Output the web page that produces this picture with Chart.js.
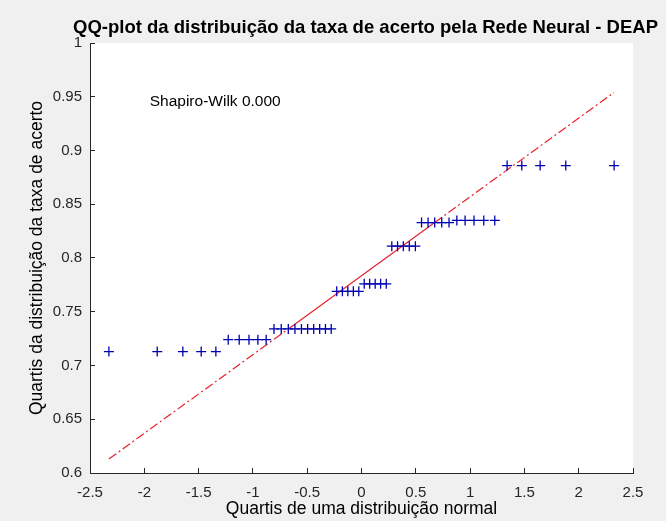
<!DOCTYPE html>
<html><head><meta charset="utf-8">
<script src="https://cdn.jsdelivr.net/npm/chart.js@4/dist/chart.umd.min.js"></script>
<style>html,body{margin:0;padding:0;background:#f0f0f0;overflow:hidden}#wrap{width:666px;height:521px}</style>
</head><body><div id="wrap"><canvas id="c" width="666" height="521"></canvas></div>
<script>
// Theoretical normal quantiles (x)
const theoreticalQuantiles = [
  -2.326,-1.881,-1.645,-1.476,-1.341,
  -1.227,-1.126,-1.036,-0.954,-0.878,
  -0.806,-0.739,-0.674,-0.613,-0.553,-0.496,-0.440,-0.385,-0.332,-0.279,
  -0.228,-0.176,-0.126,-0.075,-0.025,
  0.025,0.075,0.126,0.176,0.228,
  0.279,0.332,0.385,0.440,0.496,
  0.553,0.613,0.674,0.739,0.806,
  0.878,0.954,1.036,1.126,1.227,
  1.341,1.476,1.645,1.881,2.326
];
// Sample quantiles of the hit rate (y)
const sampleQuantiles = [
  0.713,0.713,0.713,0.713,0.713,
  0.724,0.724,0.724,0.724,0.724,
  0.734,0.734,0.734,0.734,0.734,0.734,0.734,0.734,0.734,0.734,
  0.769,0.769,0.769,0.769,0.769,
  0.776,0.776,0.776,0.776,0.776,
  0.811,0.811,0.811,0.811,0.811,
  0.833,0.833,0.833,0.833,0.833,
  0.835,0.835,0.835,0.835,0.835,
  0.886,0.886,0.886,0.886,0.886
];
// Reference line (through 1st and 3rd quartiles, extended to extremes)
const refLineX = [-2.326,-0.674,0.674,2.326];
const refLineY = [0.613,0.734,0.833,0.954];

const xTicks = [-2.5,-2,-1.5,-1,-0.5,0,0.5,1,1.5,2,2.5];
const xTickLabels = ['-2.5','-2','-1.5','-1','-0.5','0','0.5','1','1.5','2','2.5'];
const yTicks = [0.6,0.65,0.7,0.75,0.8,0.85,0.9,0.95,1];
const yTickLabels = ['0.6','0.65','0.7','0.75','0.8','0.85','0.9','0.95','1'];

const chartTitle = 'QQ-plot da distribuição da taxa de acerto pela Rede Neural - DEAP';
const xTitle = 'Quartis de uma distribuição normal';
const yTitle = 'Quartis da distribuição da taxa de acerto';
const annotationText = 'Shapiro-Wilk 0.000';
const annotationX = -1.95, annotationY = 0.945;

const FONT = '"Liberation Sans", Arial, Helvetica, sans-serif';

const bgPlugin = {
  id: 'bg',
  afterLayout(chart) {
    // centre the title over the axes area
    const t = chart.titleBlock;
    if (t) { t.left = 65; t.right = 666; t.width = 601; }
  },
  beforeDraw(chart) {
    const {ctx, chartArea: a} = chart;
    ctx.save();
    ctx.fillStyle = '#f0f0f0';
    ctx.fillRect(0, 0, chart.width, chart.height);
    ctx.fillStyle = '#ffffff';
    ctx.fillRect(a.left, a.top, a.right - a.left, a.bottom - a.top);
    ctx.restore();
  }
};
const textPlugin = {
  id: 'annot',
  afterDatasetsDraw(chart) {
    const {ctx, scales} = chart;
    ctx.save();
    ctx.font = '15.5px ' + FONT;
    ctx.fillStyle = '#000000';
    ctx.textBaseline = 'middle';
    ctx.textAlign = 'left';
    ctx.fillText(annotationText, scales.x.getPixelForValue(annotationX), scales.y.getPixelForValue(annotationY));
    ctx.restore();
  }
};

new Chart(document.getElementById('c'), {
  type: 'scatter',
  data: {
    datasets: [
      {
        label: 'dados',
        data: theoreticalQuantiles.map((x, i) => ({x, y: sampleQuantiles[i]})),
        pointStyle: 'cross',
        pointRadius: 5,
        pointBorderWidth: 1.3,
        borderColor: '#0000b0',
        backgroundColor: '#0000b0',
        showLine: false,
        order: 1
      },
      {
        label: 'referência',
        data: refLineX.map((x, i) => ({x, y: refLineY[i]})),
        showLine: true,
        pointRadius: 0,
        borderColor: '#e8202a',
        borderWidth: 1.2,
        segment: {
          borderDash: ctx => ctx.p0DataIndex === 1 ? [] : [9, 3, 2, 3]
        },
        order: 2
      }
    ]
  },
  options: {
    responsive: false,
    animation: false,
    devicePixelRatio: 1,
    layout: {padding: {left: 0, right: 33, top: 0, bottom: 0}},
    plugins: {
      legend: {display: false},
      tooltip: {enabled: false},
      title: {
        display: true,
        text: chartTitle,
        color: '#000000',
        font: {family: FONT, size: 18.5, weight: 'bold', lineHeight: 1.2},
        padding: {top: 17, bottom: 3.8}
      }
    },
    scales: {
      x: {
        type: 'linear',
        min: -2.5, max: 2.5,
        afterBuildTicks: s => { s.ticks = xTicks.map(v => ({value: v})); },
        afterFit: s => { s.height = 48; },
        ticks: {
          autoSkip: false, maxRotation: 0,
          callback: (v, i) => xTickLabels[i],
          color: '#262626',
          font: {family: FONT, size: 15},
          padding: 16
        },
        grid: {drawOnChartArea: false, drawTicks: true, tickLength: -5, color: '#262626', lineWidth: 1},
        border: {display: true, color: '#262626', width: 1},
        title: {
          display: true, text: xTitle, color: '#000000',
          font: {family: FONT, size: 17.5, lineHeight: 1.2},
          padding: {top: 0, bottom: 1}
        }
      },
      y: {
        type: 'linear',
        min: 0.6, max: 1,
        afterBuildTicks: s => { s.ticks = yTicks.map(v => ({value: v})); },
        afterFit: s => { s.width = 90; },
        ticks: {
          autoSkip: false,
          callback: (v, i) => yTickLabels[i],
          color: '#262626',
          font: {family: FONT, size: 15},
          padding: 13
        },
        grid: {drawOnChartArea: false, drawTicks: true, tickLength: -5, color: '#262626', lineWidth: 1},
        border: {display: true, color: '#262626', width: 1},
        title: {
          display: true, text: yTitle, color: '#000000',
          font: {family: FONT, size: 17.5, lineHeight: 1.2},
          padding: {top: 27, bottom: 0}
        }
      }
    }
  },
  plugins: [bgPlugin, textPlugin]
});
</script>
</body></html>
